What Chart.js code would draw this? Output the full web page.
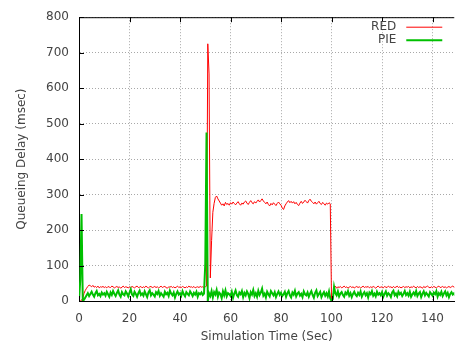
<!DOCTYPE html>
<html>
<head>
<meta charset="utf-8">
<script src="https://cdn.jsdelivr.net/npm/chart.js@4.4.1/dist/chart.umd.min.js"></script>
<style>
  html, body { margin: 0; padding: 0; background: #fff; }
  canvas { display: block; }
</style>
</head>
<body>
<canvas id="myChart" width="455" height="347"></canvas>
<script>
// simulation time (sec), one sample every half second
const simTime = [
  0,0.5,1,1.5,2,2.5,3,3.5,4,4.5,5,5.5,6,6.5,7,7.5,8,8.5,9,9.5,
  10,10.5,11,11.5,12,12.5,13,13.5,14,14.5,15,15.5,16,16.5,17,17.5,18,18.5,19,19.5,
  20,20.5,21,21.5,22,22.5,23,23.5,24,24.5,25,25.5,26,26.5,27,27.5,28,28.5,29,29.5,
  30,30.5,31,31.5,32,32.5,33,33.5,34,34.5,35,35.5,36,36.5,37,37.5,38,38.5,39,39.5,
  40,40.5,41,41.5,42,42.5,43,43.5,44,44.5,45,45.5,46,46.5,47,47.5,48,48.5,49,49.5,
  50,50.5,51,51.5,52,52.5,53,53.5,54,54.5,55,55.5,56,56.5,57,57.5,58,58.5,59,59.5,
  60,60.5,61,61.5,62,62.5,63,63.5,64,64.5,65,65.5,66,66.5,67,67.5,68,68.5,69,69.5,
  70,70.5,71,71.5,72,72.5,73,73.5,74,74.5,75,75.5,76,76.5,77,77.5,78,78.5,79,79.5,
  80,80.5,81,81.5,82,82.5,83,83.5,84,84.5,85,85.5,86,86.5,87,87.5,88,88.5,89,89.5,
  90,90.5,91,91.5,92,92.5,93,93.5,94,94.5,95,95.5,96,96.5,97,97.5,98,98.5,99,99.5,
  100,100.5,101,101.5,102,102.5,103,103.5,104,104.5,105,105.5,106,106.5,107,107.5,108,108.5,109,109.5,
  110,110.5,111,111.5,112,112.5,113,113.5,114,114.5,115,115.5,116,116.5,117,117.5,118,118.5,119,119.5,
  120,120.5,121,121.5,122,122.5,123,123.5,124,124.5,125,125.5,126,126.5,127,127.5,128,128.5,129,129.5,
  130,130.5,131,131.5,132,132.5,133,133.5,134,134.5,135,135.5,136,136.5,137,137.5,138,138.5,139,139.5,
  140,140.5,141,141.5,142,142.5,143,143.5,144,144.5,145,145.5,146,146.5,147,147.5,148,148.5,149,149.5,
  150
];

// queueing delay (msec) under RED
const redDelay = [
  0,0,2,8,22,30,36,41,45,43,40,44,39,41,38,42,37,40,39,41,
  38,40,37,41,39,38,42,40,37,39,41,38,40,36,39,42,38,40,39,37,
  40,38,41,39,37,40,42,38,39,41,37,40,38,42,39,37,40,41,38,39,
  41,38,40,37,39,42,38,40,41,38,36,40,39,41,38,40,37,39,42,38,
  40,38,41,39,37,40,38,42,39,40,38,41,37,39,40,38,41,39,40,38,
  40,42,725,640,65,170,250,275,292,296,288,282,276,270,274,268,278,272,275,270,
  277,273,279,275,271,276,280,274,270,276,273,279,282,276,272,278,283,277,274,280,
  276,281,285,279,283,288,282,278,274,279,272,268,275,271,277,273,269,275,279,274,
  270,262,258,268,274,279,283,277,281,276,280,274,278,272,269,276,281,275,279,284,
  280,276,283,287,281,278,274,279,273,277,281,275,272,278,274,270,276,273,277,274,
  0,8,36,42,36,40,38,41,37,39,42,38,40,36,39,41,38,40,37,39,
  41,38,40,37,39,42,38,40,39,41,37,40,38,41,39,36,40,42,38,39,
  40,37,41,39,38,42,39,40,37,41,38,39,42,38,40,37,39,41,38,40,
  39,41,37,40,38,42,39,37,41,38,40,39,36,41,38,40,42,39,37,40,
  38,41,39,37,40,42,38,39,41,38,40,37,39,41,38,40,42,39,38,40,
  39
];

// queueing delay (msec) under PIE
const pieDelay = [
  0,60,245,0,4,10,16,22,14,20,26,18,12,22,28,16,20,14,24,18,
  22,15,26,19,12,24,17,28,20,14,23,30,18,12,25,19,16,27,21,13,
  24,33,18,14,26,20,12,22,29,17,21,15,27,19,11,24,30,16,22,18,
  13,25,20,28,15,22,17,12,26,19,23,14,29,21,16,24,10,20,27,18,
  22,15,28,19,13,25,20,16,27,21,14,23,18,26,12,22,19,24,17,21,
  104,475,0,22,14,28,10,25,18,31,12,24,20,8,27,16,30,13,22,19,
  14,26,9,21,30,17,12,24,19,28,11,23,16,27,20,8,25,18,31,14,
  22,12,29,17,24,35,15,21,10,26,19,13,28,22,16,25,11,20,27,17,
  23,14,19,26,12,22,28,16,10,24,18,29,13,21,25,15,20,11,27,19,
  16,24,12,21,28,17,9,23,30,14,20,26,11,19,25,15,22,13,27,8,
  0,5,40,22,16,27,13,21,25,17,12,24,19,28,15,22,11,20,26,18,
  14,23,17,27,12,20,25,16,22,10,24,19,28,15,21,13,26,18,22,16,
  25,12,20,27,15,22,18,11,24,29,16,21,13,26,19,23,14,20,28,17,
  22,15,26,12,19,24,17,28,14,21,25,11,20,27,16,23,18,13,25,20,
  15,24,19,28,12,22,17,26,14,21,27,16,23,11,20,25,18,22,15,24,
  19
];

const xTicks = [0, 20, 40, 60, 80, 100, 120, 140];
const yTicks = [0, 100, 200, 300, 400, 500, 600, 700, 800];

const TEXT_COLOR = '#444';
const GRID_COLOR = '#a8a8a8';

Chart.defaults.font.family = '"DejaVu Sans", sans-serif';
Chart.defaults.font.size = 12;
Chart.defaults.color = TEXT_COLOR;

// gnuplot-ish frame: top border, inward tick marks and the key in the corner
const frameAndKey = {
  id: 'frameAndKey',
  afterDraw(chart) {
    const ctx = chart.ctx;
    const a = chart.chartArea;
    const xs = chart.scales.x;
    const ys = chart.scales.y;
    ctx.save();
    ctx.strokeStyle = '#000';
    ctx.lineWidth = 1;
    ctx.beginPath();
    ctx.moveTo(a.left, a.top + 0.5);
    ctx.lineTo(a.right, a.top + 0.5);
    xTicks.forEach(v => {
      const px = Math.round(xs.getPixelForValue(v)) + 0.5;
      ctx.moveTo(px, a.bottom);
      ctx.lineTo(px, a.bottom - 5);
      ctx.moveTo(px, a.top);
      ctx.lineTo(px, a.top + 5);
    });
    yTicks.forEach(v => {
      const py = Math.round(ys.getPixelForValue(v)) + 0.5;
      ctx.moveTo(a.left, py);
      ctx.lineTo(a.left + 5, py);
    });
    ctx.stroke();

    ctx.font = '12px "DejaVu Sans", sans-serif';
    ctx.fillStyle = TEXT_COLOR;
    ctx.textAlign = 'right';
    ctx.textBaseline = 'middle';
    const keyOrder = [1, 0];
    keyOrder.forEach((di, row) => {
      const ds = chart.data.datasets[di];
      const y = a.top + 10 + row * 13;
      ctx.fillText(ds.label, a.right - 58, y);
      ctx.strokeStyle = ds.borderColor;
      ctx.lineWidth = ds.borderWidth;
      ctx.beginPath();
      ctx.moveTo(a.right - 48, y);
      ctx.lineTo(a.right - 12, y);
      ctx.stroke();
    });
    ctx.restore();
  }
};

const data = {
  datasets: [
    {
      label: 'PIE',
      data: simTime.map((t, i) => ({ x: t, y: pieDelay[i] })),
      borderColor: 'rgb(0,192,0)',
      backgroundColor: 'rgb(0,192,0)',
      borderWidth: 2,
      order: 1
    },
    {
      label: 'RED',
      data: simTime.map((t, i) => ({ x: t, y: redDelay[i] })),
      borderColor: 'rgb(255,0,0)',
      backgroundColor: 'rgb(255,0,0)',
      borderWidth: 1,
      order: 2
    }
  ]
};

const config = {
  type: 'line',
  data: data,
  options: {
    responsive: false,
    animation: false,
    layout: { padding: { top: 10, right: 0, bottom: 0, left: 0 } },
    elements: {
      point: { radius: 0 },
      line: { tension: 0 }
    },
    plugins: {
      legend: { display: false },
      tooltip: { enabled: false }
    },
    scales: {
      x: {
        type: 'linear',
        min: 0,
        max: 148.6,
        afterBuildTicks: s => { s.ticks = xTicks.map(v => ({ value: v })); },
        afterFit: s => { s.height = 46; },
        ticks: { padding: 11, maxRotation: 0, autoSkip: false },
        grid: { color: GRID_COLOR, drawTicks: false },
        border: { color: '#000', dash: [1, 2] },
        title: {
          display: true,
          text: 'Simulation Time (Sec)',
          padding: { top: 0, bottom: 3 }
        }
      },
      y: {
        type: 'linear',
        min: 0,
        max: 800,
        afterBuildTicks: s => { s.ticks = yTicks.map(v => ({ value: v })); },
        afterFit: s => { s.width = 79; },
        ticks: { padding: 10 },
        grid: { color: GRID_COLOR, drawTicks: false },
        border: { color: '#000', dash: [1, 2] },
        title: {
          display: true,
          text: 'Queueing Delay (msec)',
          padding: { top: 15, bottom: 0 }
        }
      }
    }
  },
  plugins: [frameAndKey]
};

const myChart = new Chart(document.getElementById('myChart'), config);
</script>
</body>
</html>
